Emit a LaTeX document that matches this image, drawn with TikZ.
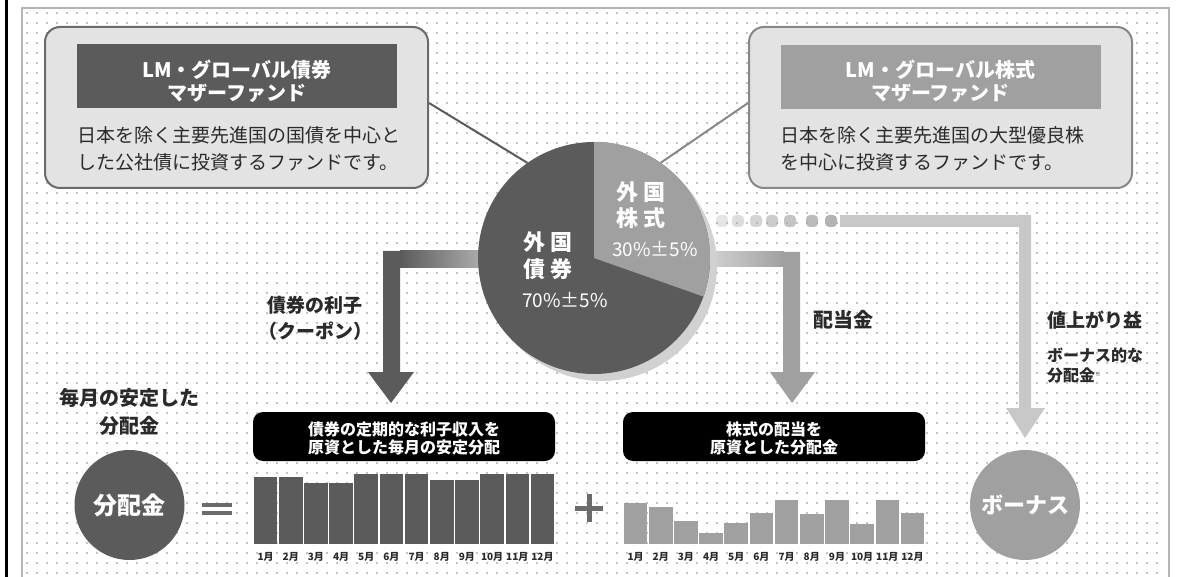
\documentclass[tikz,border=0pt]{standalone}
\usepackage{fontspec}
\setmainfont{Noto Sans CJK JP}
\usetikzlibrary{shapes.geometric}
\definecolor{bond}{HTML}{5B5B5B}
\definecolor{eq}{HTML}{A0A0A0}
\definecolor{lite}{HTML}{C8C8C8}
\definecolor{boxfill}{HTML}{E3E3E3}
\definecolor{dotc}{HTML}{C4C4C4}
\definecolor{framec}{HTML}{B4B4B4}
\definecolor{ink}{HTML}{2A2A2A}
\tikzset{
  fs/.style 2 args={font=\fontsize{#1}{#2}\selectfont},
  fsb/.style 2 args={font=\fontsize{#1}{#2}\selectfont\bfseries},
  fundbox/.style={draw=#1, line width=2pt, fill=boxfill, rounded corners=15pt,
                  minimum width=383pt, minimum height=161pt, inner sep=0pt},
  titleband/.style={fill=#1, minimum width=320pt, minimum height=64pt, inner sep=0pt},
  blackbox/.style={fill=black, rounded corners=10pt, minimum width=302pt,
                   minimum height=49pt, inner sep=0pt},
  roundlabel/.style={circle, fill=#1, minimum size=110pt, inner sep=0pt,
                     text=white, fsb={24}{26}},
  month/.style={fsb={10}{11}, text=ink, inner sep=0pt},
  wtxt/.style={text=white, align=center, inner sep=0pt},
  btxt/.style={text=ink, inner sep=0pt},
}
\begin{document}
\begin{tikzpicture}[x=1pt,y=-1pt]
\useasboundingbox (0,0) rectangle (1191,577);
\fill[white] (0,0) rectangle (1191,577);
% dotted background
\foreach \j in {0,...,56}{
  \fill[dotc] \foreach \i in {0,...,113}{ (26.2+10*\i,12.2+10*\j) rectangle +(1.6,1.6) };
}
% frame
\draw[black, line width=3pt] (6,0) -- (6,577);
\draw[framec, line width=1.2pt] (22,577) -- (22,8) -- (1169,8) -- (1169,577);

% fund boxes
\node[fundbox=bond!90] (lbox) at (236.5,107.5) {};
\node[titleband=bond] (ltitle) at (237,76.5) {};
\node[wtxt, fsb={20}{23}] (ltitletext) at (237,81) {LM・グローバル債券\\マザーファンド};
\node[btxt, fs={19}{27}, align=left, anchor=west] (lbody) at (77,149)
  {日本を除く主要先進国の国債を中心と\\した公社債に投資するファンドです。};

\node[fundbox=eq!85!black] (rbox) at (940.5,107.5) {};
\node[titleband=eq] (rtitle) at (940.5,77.5) {};
\node[wtxt, fsb={20}{23}] (rtitletext) at (940.5,81) {LM・グローバル株式\\マザーファンド};
\node[btxt, fs={19}{27}, align=left, anchor=west] (rbody) at (780,149)
  {日本を除く主要先進国の大型優良株\\を中心に投資するファンドです。};

% coordinates for arrows
\coordinate (pc) at (594,258);

% left arrow (bond interest)
\shade[left color=bond, right color=bond!45] (400,251) rectangle (490,268);
\fill[bond] (383,251) rectangle (401,268);
\fill[bond] (383,251) -- (383,372) -- (368,372) -- (391,403) -- (414,372) -- (400,372) -- (400,251) -- cycle;
\coordinate (la) at (391,403);

% middle arrow (dividend)
\shade[left color=lite!70, right color=eq] (700,252) rectangle (784,267);
\fill[eq] (783,252) rectangle (800,267);
\fill[eq] (783,252) -- (783,372) -- (770,372) -- (792,403) -- (815,372) -- (800,372) -- (800,252) -- cycle;
\coordinate (ma) at (792,403);

% right arrow (capital gain)
\foreach \x/\o in {722/0.3,738/0.4,756/0.5,772/0.6,790/0.7,812/0.8,831/0.9}
  \fill[black!33, opacity=\o, rounded corners=4pt] (\x-6,215) rectangle (\x+6,227);
\fill[lite] (840,215) rectangle (1031,227);
\fill[lite] (1019,215) -- (1019,408) -- (1006,408) -- (1025,438) -- (1045,408) -- (1031,408) -- (1031,215) -- cycle;
\coordinate (ra) at (1025,438);

% pie
\fill[black!28] (599,263) circle (116);
\fill[black!18] (602,266) circle (115);
\node[circle, fill=bond, minimum size=232pt, inner sep=0pt] (pie) at (pc) {};
\fill[eq] (pie.center) -- (pie.north) arc[start angle=-90, end angle=19.5, radius=116] -- cycle;
\node[wtxt, fsb={22}{26}] (eqlab) at (641,205) {外\hspace{5pt}国\\株\hspace{5pt}式};
\node[wtxt, fs={19}{20}] (eqpct) at (655,249) {30\%±5\%};
\node[wtxt, fsb={22}{27}] (bdlab) at (548,256) {外\hspace{5pt}国\\債\hspace{5pt}券};
\node[wtxt, fs={19}{20}] (bdpct) at (565,300) {70\%±5\%};

% connectors from fund boxes to pie
\draw[bond, line width=2pt] (lbox.east |- 0,103) -- (pie.125);
\draw[eq!85!black, line width=2pt] (rbox.west |- 0,103) -- (pie.55);

% arrow labels
\node[btxt, fsb={19}{26}, align=center] (coupon) at (315,318) {債券の利子\\（クーポン）};
\node[btxt, fsb={20}{22}] (divlab) at (843,320) {配当金};
\node[btxt, fsb={19}{22}, anchor=west] (gainlab) at (1047,320) {値上がり益};
\node[btxt, fsb={16}{20}, align=left, anchor=west] (bonuslab) at (1047,365)
  {ボーナス的な\\分配金\raisebox{5pt}{\fontsize{6}{6}\selectfont ※}};

% bottom row
\node[btxt, fsb={20}{28}, align=center] (monthly) at (129,412) {毎月の安定した\\分配金};
\node[roundlabel=bond] (dist) at (129.5,505) {分配金};
\fill[bond!90] (202,502.5) rectangle (232,506.5);
\fill[bond!90] (202,510.5) rectangle (232,514.5);
\coordinate (eqsign) at (217,508.5);

\node[blackbox] (bb1) at (404,436.5) {};
\node[wtxt, fsb={16}{18}] (bb1t) at (404,438) {債券の定期的な利子収入を\\原資とした毎月の安定分配};
\node[blackbox] (bb2) at (774,436.5) {};
\node[wtxt, fsb={16}{18}] (bb2t) at (774,438) {株式の配当を\\原資とした分配金};

\foreach \h [count=\m] in {477,477,483,483,474,474,474,480,480,474,474,474}{
  \fill[bond] ({253+(\m-1)*25.17+0.8},\h) rectangle ({253+\m*25.17-0.8},544);
  \node[month] (ma\m) at ({253+(\m-0.5)*25.17},557) {\m 月};
}
\foreach \h [count=\m] in {503,507,521,533,523,513,500,514,500,524,500,513}{
  \fill[eq] ({623+(\m-1)*25.17+0.8},\h) rectangle ({623+\m*25.17-0.8},544);
  \node[month] (mb\m) at ({623+(\m-0.5)*25.17},557) {\m 月};
}

\fill[bond!90] (575,505.5) rectangle (603,510.5);
\fill[bond!90] (586.5,494) rectangle (591.5,522);
\coordinate (plus) at (589,508);

\node[roundlabel=eq, fsb={22}{24}] (bonus) at (1025,505) {ボーナス};
\end{tikzpicture}
\end{document}
